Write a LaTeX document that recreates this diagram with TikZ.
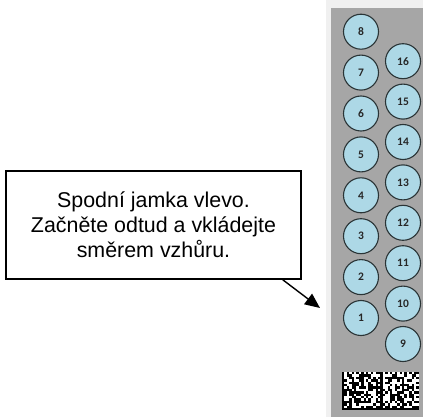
\documentclass[tikz,border=0pt]{standalone}
\usepackage{fontspec}
\setmainfont{Liberation Sans}
\newfontfamily\wellfont{Carlito}
\usetikzlibrary{arrows.meta}
\definecolor{panelgray}{HTML}{A6A6A6}
\definecolor{wellblue}{HTML}{ADD8E6}
\definecolor{welledge}{HTML}{2A3436}
\tikzset{
  well/.style={circle, draw=welledge, fill=wellblue, line width=1.1pt, minimum size=35pt, inner sep=0pt,
    text=black!85, font=\wellfont\bfseries\fontsize{11.5}{11.5}\selectfont},
  hintbox/.style={draw, line width=1.6pt, minimum width=295pt, minimum height=108pt, align=center,
    font=\fontsize{21.4}{25}\selectfont}
}
\begin{document}
\begin{tikzpicture}[x=1pt,y=-1pt]
    \useasboundingbox (0,0) rectangle (423,417);
    \fill[black!6] (326,0) rectangle (423,417);
    \fill[panelgray] (331,8) rectangle (423,417);
    \foreach \i in {1,...,8} \node[well] (w\i) at (361,{318-(\i-1)*40.9}) {\i};
    \foreach \i in {9,...,16} \node[well] (w\i) at (403,{344-(\i-9)*40.4}) {\i};
    \node[hintbox] (hint) at (153.5,225) {Spodní jamka vlevo.\\Začněte odtud a vkládejte\\směrem vzhůru.};
    \coordinate (tip) at (320,308);
    \draw[line width=1.4pt,-{Triangle[length=15pt,width=13pt]}] (hint.south east) ++(-19,0) -- (tip);
    \fill[white] (342,372) rectangle (418.8,410.4);
    \pgfmathsetseed{11}
    \foreach \c in {1,...,14,17,18,...,30} \foreach \r in {1,...,14} {
      \pgfmathtruncatemacro\on{rnd<0.5}
      \ifnum\on=1 \fill (342+\c*2.4,372+\r*2.4) rectangle ++(2.4,2.4); \fi
    }
    \fill (342,408) rectangle (418.8,410.4);
    \fill (342,372) rectangle ++(2.4,38.4);
    \fill (380.4,372) rectangle ++(2.4,38.4);
    \foreach \c in {0,2,...,30} \fill (342+\c*2.4,372) rectangle ++(2.4,2.4);
    \foreach \r in {0,2,...,14} {
      \fill (378,372+\r*2.4) rectangle ++(2.4,2.4);
      \fill (416.4,372+\r*2.4) rectangle ++(2.4,2.4);
    }
\end{tikzpicture}
\end{document}
